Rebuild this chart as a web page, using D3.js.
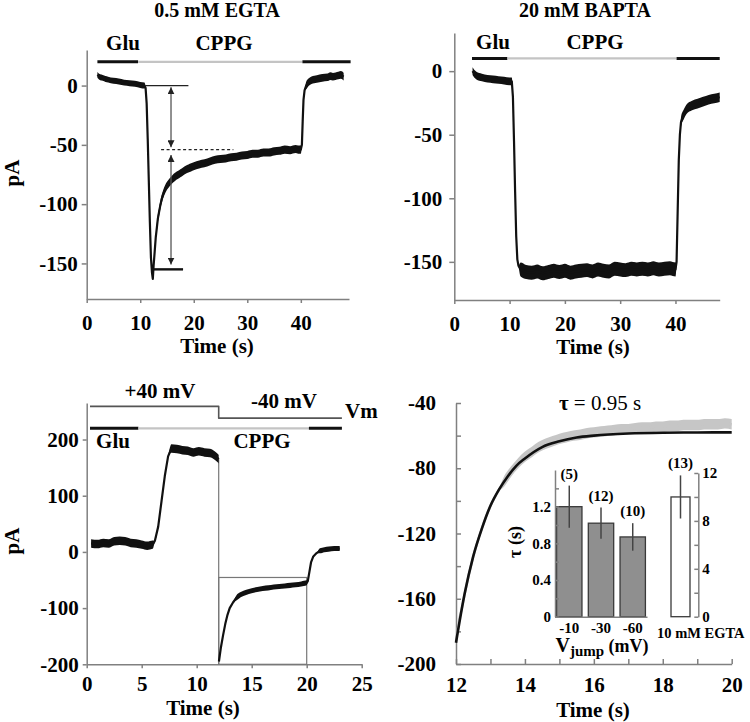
<!DOCTYPE html>
<html><head><meta charset="utf-8">
<script src="https://cdn.jsdelivr.net/npm/d3@7"></script>
<style>
body{margin:0;background:#fff}
text{font-family:"Liberation Serif","Times New Roman",serif;font-weight:bold;}
</style>
</head><body>
<svg id="c" width="750" height="722"></svg>
<script>
// ---------------- DATA ----------------
// Panel A : 0.5 mM EGTA trace [time s, current pA]
const egtaTrace = [[2,9],[2.5,7],[3,6.5],[3.5,5.5],[4,5],[5,4],[6,3.5],[7,2.5],[8,2],[9,1.5],[10,0.5],[10.8,0],
 [11.0,-2],[11.2,-15],[11.4,-45],[11.6,-80],[11.8,-115],[12.0,-145],[12.2,-158],[12.35,-163],[12.5,-152],[12.7,-140],[12.9,-128],[13.1,-120],[13.3,-112],[13.5,-107],[13.75,-101],[14,-96],[14.25,-92],[14.5,-89],[14.75,-86.5],[15,-84.5],[15.5,-81.5],[16,-79],[16.5,-77],[17,-75.5],[17.5,-74],[18,-72.5],[18.5,-71],[19,-70],[19.5,-69],[20,-68],[21,-66.5],[22,-65.5],[23,-64],[24,-62.5],[25,-62],[26,-61.5],[27,-60.5],[28,-60],[29,-59],[30,-58.5],[31,-57.5],[32,-57.5],[33,-56.5],[34,-56.5],[35,-55.5],[36,-55],[37,-54],[38,-54.5],[39,-53.5],[39.5,-54],[40,-54],
 [40.2,-50],[40.35,-30],[40.5,-12],[40.7,-4],[41,0],[41.5,3],[42,4.5],[43,5.5],[44,6.5],[45,7],[45.5,8],[46,7.5],[47,8.5],[47.5,9],[48,7.5]];
const egtaNoise = [[2,10.8,2.5],[13,40,3.4],[41,48,3.2]];   // [from s, to s, half-width pA]
const egtaDrug = [[2,9.6,"Glu"],[9.6,40.3,"CPPG"],[40.3,49.3,"Glu"]];
const egtaBaseline = [10.9,19,0];     // x1, x2, pA
const egtaPeakLine = [12.2,18,-155];
const egtaSteady = [13.9,27.4,-54];
const egtaArrows = [[15.75,-1.5,-52],[15.75,-58.5,-151]];
const timeTicksAB = [0,10,20,30,40];
const pATicksAB = [0,-50,-100,-150];

// Panel B : 20 mM BAPTA
const baptaTrace = [[3.3,0],[3.6,-2],[4,-3.5],[5,-5],[6,-6],[7,-6.5],[8,-7],[9,-7.5],[10,-8],[10.4,-8],[10.6,-20],[10.8,-55],[11.0,-95],[11.2,-130],[11.4,-148],[11.6,-153],
 [12,-156],[13,-158],[14,-158.5],[15,-157.5],[16,-159],[17,-158],[18,-157],[19,-158],[20,-157],[21,-158.5],[22,-157.5],[23,-157],[24,-156.5],[25,-157.5],[26,-156],[27,-157],[28,-157.5],[29,-155.5],[30,-156],[31,-156.5],[32,-155.5],[33,-156],[34,-155.5],[35,-156],[36,-155],[37,-156],[38,-155.5],[39,-155],[40,-156],
 [40.2,-150],[40.4,-110],[40.6,-70],[40.8,-50],[41,-40],[41.5,-34],[42,-30],[43,-27],[44,-25.5],[45,-24],[46,-22.5],[47,-21.5],[48,-20.5]];
const baptaNoise = [[3.3,10.4,3],[12,40,5.5],[41,48,3.8]];
const baptaDrug = [[3.2,9.6,"Glu"],[9.6,40.2,"CPPG"],[40.2,48,"Glu"]];

// Panel C : voltage jump
const jumpBefore = [[0.4,15],[1,14],[1.5,16],[2,15],[2.5,19],[3,20],[3.5,19],[4,16],[4.5,15],[5,13],[5.5,11],[6,13],[6.2,20],[6.5,45],[6.8,90],[7.1,135],[7.4,170],[7.7,184],[8.2,183],[8.7,181],[9.2,180],[9.7,177],[10.2,179],[10.7,177],[11.2,176],[11.6,172],[11.9,167],[12,165]];
const jumpBeforeNoise = [[0.4,6.1,7.5],[7.7,12,7.5]];
const jumpAfter = [[12.02,-195],[12.2,-170],[12.4,-148],[12.6,-128],[12.8,-112],[13,-100],[13.3,-90],[13.6,-82],[14,-76],[14.5,-72],[15,-69],[15.5,-67],[16,-65],[16.5,-64],[17,-62.5],[17.5,-61.5],[18,-60.5],[18.5,-59.5],[19,-58.5],[19.5,-57],[20,-55],
 [20.1,-52],[20.25,-35],[20.4,-18],[20.6,-8],[20.9,-2],[21.2,2],[21.6,4],[22,5],[22.5,6],[23,6]];
const jumpAfterNoise = [[13.6,20,4.5],[21,23,4.5]];
const jumpDrug = [[0.3,4.7,"Glu"],[4.7,20.2,"CPPG"],[20.2,23.2,"Glu"]];
const vmStep = [[0.3,40],[12,40],[12,-40],[23.2,-40]];
const fitWindow = [12,20,-45.5,-200]; // x1,x2,ytop,ybottom
const timeTicksC = [0,5,10,15,20,25];
const pATicksC = [200,100,0,-100,-200];

// Panel D : exponential fit
const fitTrace = [[12,-187],[12.25,-157],[12.5,-134],[12.75,-117],[13,-103],[13.25,-93],[13.5,-85],[13.75,-78.5],[14,-74],[14.5,-67],[15,-63.5],[15.5,-61.2],[16,-60],[17,-58.7],[18,-58.2],[19,-58.05],[20,-58]];
const rawTrace = [[12.0,-186],[12.1,-172],[12.2,-163],[12.3,-152],[12.4,-143],[12.5,-134],[12.6,-127],[12.7,-120],[12.8,-114],[12.9,-108],[13.0,-103],[13.2,-95],[13.4,-88],[13.6,-82],[13.8,-77],[14.0,-73],[14.2,-70],[14.4,-67],[14.6,-65],[14.8,-63.5],[15.0,-62],[15.2,-61],[15.4,-60],[15.6,-59.5],[15.8,-58.5],[16.0,-58],[16.2,-57.5],[16.4,-57],[16.6,-56.5],[16.8,-56],[17.0,-56],[17.2,-55.5],[17.4,-55],[17.6,-55],[17.8,-54.5],[18.0,-54.5],[18.2,-54],[18.4,-54],[18.6,-53.5],[18.8,-53.5],[19.0,-53.5],[19.2,-53],[19.4,-53],[19.6,-53],[19.8,-52.5],[20.0,-53]];
const rawNoise = [[13.4,20,3.2]];
const tauText = "0.95 s";

// Inset
const vjumpCats = ["-10","-30","-60"];
const tauMeans = [1.2,1.02,0.87];
const tauErr = [0.23,0.17,0.15];
const tauN = ["(5)","(12)","(10)"];
const egtaCat = ["10 mM EGTA"];
const egtaTauMean = [10];
const egtaTauErr = [1.8];
const egtaN = ["(13)"];

// ---------------- DRAW ----------------
const svg = d3.select('#c');
const AX = '#808080';
const FS = 21;
function styleAxis(g, fs){
  g.select('.domain').attr('stroke',AX).attr('stroke-width',1.5);
  g.selectAll('.tick line').attr('stroke',AX).attr('stroke-width',1.5);
  g.selectAll('.tick text').attr('font-size',fs).attr('fill','#000');
}
const fmt = d => String(d);
function txt(x,y,s,fs,anchor){
  return svg.append('text').attr('x',x).attr('y',y).attr('font-size',fs).attr('text-anchor',anchor||'middle').text(s);
}
function vtxt(x,y,s,fs){
  return svg.append('text').attr('transform',`translate(${x},${y}) rotate(-90)`).attr('font-size',fs).attr('text-anchor','middle').text(s);
}
const defs = svg.append('defs');
defs.append('marker').attr('id','ah').attr('viewBox','0 0 10 10').attr('refX',10).attr('refY',5)
  .attr('markerWidth',7).attr('markerHeight',7).attr('markerUnits','userSpaceOnUse').attr('orient','auto-start-reverse')
  .append('path').attr('d','M0,0 L10,5 L0,10 z').attr('fill','#222');

function drugBars(x, yPix, segs){
  svg.append('g').selectAll('line').data(segs).join('line')
    .attr('x1',d=>x(d[0])).attr('x2',d=>x(d[1])).attr('y1',yPix).attr('y2',yPix)
    .attr('stroke',d=>d[2]==='Glu'?'#111':'#c4c4c4').attr('stroke-width',d=>d[2]==='Glu'?3:2.2);
}
function trace(x,y,data,color,w,curve,noise){
  if(noise){
    const amp = t => { for(const n of noise) if(t>=n[0] && t<=n[1]) return n[2]; return 0; };
    const ar = d3.area().x(d=>x(d[0])).y0(d=>y(d[1]-amp(d[0]))).y1(d=>y(d[1]+amp(d[0]))).curve(d3.curveMonotoneX);
    svg.append('path').datum(data).attr('d',ar).attr('fill',color);
  }
  const ln = d3.line().x(d=>x(d[0])).y(d=>y(d[1]));
  if(curve) ln.curve(curve);
  svg.append('path').datum(data).attr('d',ln).attr('fill','none').attr('stroke',color)
    .attr('stroke-width',w).attr('stroke-linejoin','round');
}

// ----- Panel A -----
const xA = d3.scaleLinear().domain([0,49]).range([86.7,349]);
const yA = d3.scaleLinear().domain([-180,30]).range([299,50]);
svg.append('g').attr('transform','translate(0,299)')
  .call(d3.axisBottom(xA).tickValues(timeTicksAB).tickFormat(fmt).tickSize(4).tickSizeOuter(0).tickPadding(12)).call(styleAxis,FS);
svg.append('g').attr('transform','translate(86.7,0)')
  .call(d3.axisLeft(yA).tickValues(pATicksAB).tickFormat(fmt).tickSize(5).tickSizeOuter(0).tickPadding(4)).call(styleAxis,FS);
drugBars(xA, yA(20), egtaDrug);
trace(xA,yA,egtaTrace,'#111',2.2,null,egtaNoise);
svg.append('line').attr('x1',xA(egtaBaseline[0])).attr('x2',xA(egtaBaseline[1])).attr('y1',yA(egtaBaseline[2])).attr('y2',yA(egtaBaseline[2])).attr('stroke','#222').attr('stroke-width',1.3);
svg.append('line').attr('x1',xA(egtaPeakLine[0])).attr('x2',xA(egtaPeakLine[1])).attr('y1',yA(egtaPeakLine[2])).attr('y2',yA(egtaPeakLine[2])).attr('stroke','#111').attr('stroke-width',2.4);
svg.append('line').attr('x1',xA(egtaSteady[0])).attr('x2',xA(egtaSteady[1])).attr('y1',yA(egtaSteady[2])).attr('y2',yA(egtaSteady[2])).attr('stroke','#222').attr('stroke-width',1.3).attr('stroke-dasharray','3,2.5');
svg.append('g').selectAll('line').data(egtaArrows).join('line')
  .attr('x1',d=>xA(d[0])).attr('x2',d=>xA(d[0])).attr('y1',d=>yA(d[1])).attr('y2',d=>yA(d[2]))
  .attr('stroke','#555').attr('stroke-width',1.3).attr('marker-start','url(#ah)').attr('marker-end','url(#ah)');
txt(217,17,'0.5 mM EGTA',20);
txt(123,50,'Glu',FS); txt(224,50,'CPPG',FS);
vtxt(19,173,'pA',FS);
txt(217,353,'Time (s)',FS);

// ----- Panel B -----
const xB = d3.scaleLinear().domain([0,48]).range([454.3,719.7]);
const yB = d3.scaleLinear().domain([-180,30]).range([300,33]);
svg.append('g').attr('transform','translate(0,300)')
  .call(d3.axisBottom(xB).tickValues(timeTicksAB).tickFormat(fmt).tickSize(4).tickSizeOuter(0).tickPadding(12)).call(styleAxis,FS);
svg.append('g').attr('transform','translate(454.3,0)')
  .call(d3.axisLeft(yB).tickValues(pATicksAB).tickFormat(fmt).tickSize(5).tickSizeOuter(0).tickPadding(7)).call(styleAxis,FS);
drugBars(xB, yB(10), baptaDrug);
trace(xB,yB,baptaTrace,'#111',2.2,null,baptaNoise);
txt(585,17,'20 mM BAPTA',20);
txt(493,49,'Glu',FS); txt(595,49,'CPPG',FS);
txt(593,354,'Time (s)',FS);

// ----- Panel C -----
const xC = d3.scaleLinear().domain([0,25]).range([86.7,361.7]);
const yC = d3.scaleLinear().domain([-200,265]).range([664.3,403]);
svg.append('g').attr('transform','translate(0,664.3)')
  .call(d3.axisBottom(xC).tickValues(timeTicksC).tickFormat(fmt).tickSize(4).tickSizeOuter(0).tickPadding(8)).call(styleAxis,FS);
svg.append('g').attr('transform','translate(86.7,0)')
  .call(d3.axisLeft(yC).tickValues(pATicksC).tickFormat(fmt).tickSize(4).tickSizeOuter(0).tickPadding(4)).call(styleAxis,FS);
const vmY = d3.scaleLinear().domain([-40,40]).range([yC(238),yC(259)]);
trace(xC,vmY,vmStep,'#555',1.6);
drugBars(xC, yC(220), jumpDrug);
svg.append('rect').attr('x',xC(fitWindow[0])).attr('y',yC(fitWindow[2]))
  .attr('width',xC(fitWindow[1])-xC(fitWindow[0])).attr('height',yC(fitWindow[3])-yC(fitWindow[2]))
  .attr('fill','none').attr('stroke','#777').attr('stroke-width',1.2);
svg.append('line').attr('x1',xC(12)).attr('x2',xC(12)).attr('y1',yC(165)).attr('y2',yC(-200)).attr('stroke','#777').attr('stroke-width',1.2);
trace(xC,yC,jumpBefore,'#111',2.2,null,jumpBeforeNoise);
trace(xC,yC,jumpAfter,'#111',2.2,null,jumpAfterNoise);
txt(160,398,'+40 mV',FS); txt(284,408,'-40 mV',FS); txt(345,417.5,'Vm',FS,'start');
txt(113,448,'Glu',FS); txt(262,448,'CPPG',FS);
vtxt(19,541,'pA',FS);
txt(203,715,'Time (s)',FS);

// ----- Panel D -----
const xD = d3.scaleLinear().domain([12,20]).range([456,731.7]);
const yD = d3.scaleLinear().domain([-200,-40]).range([664,403]);
svg.append('g').attr('transform','translate(0,664)')
  .call(d3.axisBottom(xD).tickValues(d3.range(12,20.01,1)).tickFormat(d=>d%2===0?String(d):'').tickSizeInner(-5).tickSizeOuter(0).tickPadding(13)).call(styleAxis,FS);
svg.append('g').attr('transform','translate(456,0)')
  .call(d3.axisLeft(yD).tickValues(d3.range(-200,-39,20)).tickFormat(d=>d%40===0?String(d):'').tickSizeInner(-5).tickSizeOuter(0).tickPadding(20)).call(styleAxis,FS);
trace(xD,yD,rawTrace,'#c6c6c6',2.4,null,rawNoise);
trace(xD,yD,fitTrace,'#111',2.6,d3.curveMonotoneX);
const tauT = svg.append('text').attr('x',600).attr('y',410).attr('font-size',FS).attr('text-anchor','middle');
tauT.append('tspan').text('τ');
tauT.append('tspan').style('font-weight','normal').text(' = '+tauText);
txt(593,717,'Time (s)',FS);

// Inset left
const xI = d3.scaleBand().domain(vjumpCats).range([555,647]).paddingInner(0.2).paddingOuter(0.05);
const yI = d3.scaleLinear().domain([0,1.6]).range([616.7,470]);
svg.append('g').selectAll('rect').data(vjumpCats).join('rect')
  .attr('x',d=>xI(d)).attr('width',xI.bandwidth()).attr('y',(d,i)=>yI(tauMeans[i])).attr('height',(d,i)=>yI(0)-yI(tauMeans[i]))
  .attr('fill','#8f8f8f').attr('stroke','#3a3a3a').attr('stroke-width',1.3);
svg.append('g').selectAll('line').data(vjumpCats).join('line')
  .attr('x1',d=>xI(d)+xI.bandwidth()/2).attr('x2',d=>xI(d)+xI.bandwidth()/2)
  .attr('y1',(d,i)=>yI(tauMeans[i]+tauErr[i])).attr('y2',(d,i)=>yI(tauMeans[i]-tauErr[i]))
  .attr('stroke','#444').attr('stroke-width',1.5);
svg.append('g').selectAll('text').data(vjumpCats).join('text')
  .attr('x',d=>xI(d)+xI.bandwidth()/2).attr('y',(d,i)=>yI(tauMeans[i]+tauErr[i])-7)
  .attr('text-anchor','middle').attr('font-size',15).text((d,i)=>tauN[i]);
svg.append('g').attr('transform','translate(0,616.7)')
  .call(d3.axisBottom(xI).tickSize(0).tickPadding(6)).call(styleAxis,15);
svg.append('g').attr('transform','translate(555,0)')
  .call(d3.axisLeft(yI).tickValues([0,0.2,0.4,0.6,0.8,1.0,1.2,1.4]).tickFormat(d=>[0,0.4,0.8,1.2].some(v=>Math.abs(v-d)<1e-6)?(d===0?'0':d3.format('.1f')(d)):'')
    .tickSizeInner(-4).tickSizeOuter(0).tickPadding(4)).call(styleAxis,15);
svg.append('text').attr('transform','translate(521,542) rotate(-90)').attr('text-anchor','middle').attr('font-size',18).text('τ (s)');
const vj = svg.append('text').attr('x',602).attr('y',652).attr('text-anchor','middle').attr('font-size',20);
vj.append('tspan').text('V');
vj.append('tspan').attr('font-size',15).attr('dy',4).text('jump');
vj.append('tspan').attr('font-size',18).attr('dy',-4).text(' (mV)');

// Inset right
const xR = d3.scaleBand().domain(egtaCat).range([671,690]).padding(0);
const yR = d3.scaleLinear().domain([0,12]).range([616.7,473]);
svg.append('g').selectAll('rect').data(egtaCat).join('rect')
  .attr('x',d=>xR(d)).attr('width',xR.bandwidth()).attr('y',(d,i)=>yR(egtaTauMean[i])).attr('height',(d,i)=>yR(0)-yR(egtaTauMean[i]))
  .attr('fill','#fff').attr('stroke','#3a3a3a').attr('stroke-width',1.3);
svg.append('g').selectAll('line').data(egtaCat).join('line')
  .attr('x1',d=>xR(d)+xR.bandwidth()/2).attr('x2',d=>xR(d)+xR.bandwidth()/2)
  .attr('y1',(d,i)=>yR(egtaTauMean[i]+egtaTauErr[i])).attr('y2',(d,i)=>yR(egtaTauMean[i]-egtaTauErr[i]))
  .attr('stroke','#444').attr('stroke-width',1.5);
svg.append('g').selectAll('text').data(egtaCat).join('text')
  .attr('x',d=>xR(d)+xR.bandwidth()/2).attr('y',(d,i)=>yR(egtaTauMean[i]+egtaTauErr[i])-7)
  .attr('text-anchor','middle').attr('font-size',15).text((d,i)=>egtaN[i]);
svg.append('g').attr('transform','translate(698.3,0)')
  .call(d3.axisRight(yR).tickValues(d3.range(0,12.1,2)).tickFormat(d=>d%4===0?String(d):'').tickSizeInner(-4).tickSizeOuter(0).tickPadding(4)).call(styleAxis,15);
txt(657,637.5,egtaCat[0],14.5,'start');
</script>
</body></html>
